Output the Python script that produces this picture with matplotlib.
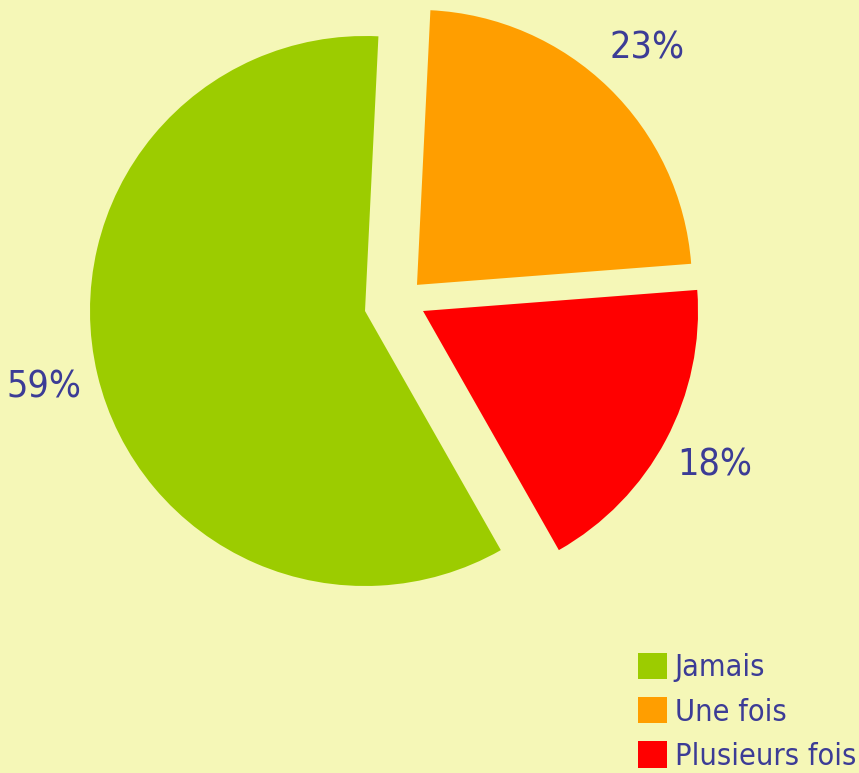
import matplotlib.pyplot as plt

labels = ['Jamais', 'Une fois', 'Plusieurs fois']
values = [59, 23, 18]
colors = ['#9ccc00', '#ff9e00', '#ff0000']
# shift of each slice, in units of the radius (not radial in the original)
shifts = [(0.0, 0.0), (0.189, 0.095), (0.211, 0.0)]

bg = '#f5f7b7'
txt = '#3c3c96'
plt.rcParams['font.family'] = ['DejaVu Sans']
plt.rcParams['font.stretch'] = 'condensed'

fig = plt.figure(figsize=(8.59, 7.73), dpi=100, facecolor=bg)
ax = fig.add_axes([0, 0, 1, 1])
ax.set_facecolor(bg)

cx, cy, R = 365, 773 - 311, 275
wedges, _, autotexts = ax.pie(values, colors=colors, startangle=-60.4, counterclock=False,
                              center=(cx, cy), radius=R, autopct=lambda p: f'{p:.0f}%',
                              pctdistance=1.2, wedgeprops=dict(linewidth=0),
                              textprops=dict(color=txt, fontsize=27, fontstretch='condensed'))

for w, t, (dx, dy) in zip(wedges, autotexts, shifts):
    w.set_center((cx + dx * R, cy + dy * R))
    x, y = t.get_position()
    t.set_position((x + dx * R, y + dy * R))

ax.set_xlim(0, 859)
ax.set_ylim(0, 773)
ax.set_aspect('equal')
ax.axis('off')

leg = fig.legend(wedges, labels, loc='lower right', bbox_to_anchor=(856 / 859, 2 / 773),
                 frameon=False, fontsize=22, labelcolor=txt, handlelength=0.95, handleheight=0.95,
                 handletextpad=0.25, labelspacing=0.48, borderpad=0, borderaxespad=0)
for t in leg.get_texts():
    t.set_fontstretch('condensed')

plt.savefig('out.png', dpi=100, facecolor=bg)
